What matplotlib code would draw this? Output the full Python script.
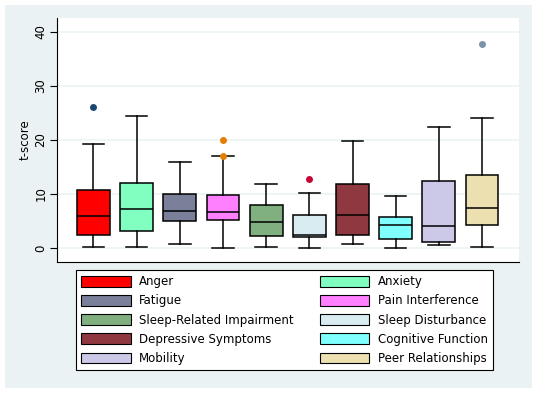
import matplotlib
matplotlib.use("Agg")
import matplotlib.pyplot as plt
from matplotlib.patches import Patch, Rectangle

# t-score distributions per domain
domains = ["Anger", "Anxiety", "Fatigue", "Pain Interference",
           "Sleep-Related Impairment", "Sleep Disturbance",
           "Depressive Symptoms", "Cognitive Function", "Mobility",
           "Peer Relationships"]
whis_lo = [0.25, 0.25, 0.7, 0.0, 0.1, 0.0, 0.7, 0.0, 0.5, 0.1]
q1 = [2.5, 3.1, 5.0, 5.1, 2.2, 2.0, 2.5, 1.6, 1.05, 4.2]
median = [5.9, 7.2, 6.8, 6.6, 4.75, 2.5, 6.05, 4.2, 4.0, 7.5]
q3 = [10.7, 12.0, 9.95, 9.75, 7.9, 6.05, 11.85, 5.7, 12.35, 13.5]
whis_hi = [19.2, 24.4, 15.9, 17.0, 11.8, 10.1, 19.75, 9.6, 22.5, 24.1]
outliers = [[26.2], [], [], [20.0, 17.0], [], [12.8], [], [], [], [37.8]]

box_colors = ["#ff0000", "#80ffc0", "#7a809a", "#ff80ff", "#80b080",
              "#d8ecf2", "#903840", "#80ffff", "#ccc8e8", "#ece0b0"]
# Stata s2color palette used for the outside values
flier_colors = ["#1a476f", "#90353b", "#55752f", "#e37e00", "#6e8e84",
                "#c10534", "#938dd2", "#cac27e", "#a0522d", "#7b92a8"]

y_ticks = [0, 10, 20, 30, 40]

BG = "#eaf2f3"
W, H = 537, 393
FONT = "DejaVu Sans"

fig = plt.figure(figsize=(W / 100, H / 100), dpi=100)
fig.patch.set_facecolor("white")
fig.patches.append(Rectangle((5 / W, 1 - 388 / H), 527 / W, 383 / H,
                             transform=fig.transFigure, facecolor=BG,
                             edgecolor="none", zorder=-10))

ax = fig.add_axes([57 / W, 1 - 262 / H, 462 / W, 244 / H])
ax.set_facecolor("white")

stats = []
for i, name in enumerate(domains):
    stats.append(dict(label=name, whislo=whis_lo[i], q1=q1[i], med=median[i],
                      q3=q3[i], whishi=whis_hi[i], fliers=[]))

positions = list(range(1, len(domains) + 1))
bp = ax.bxp(stats, positions=positions, widths=0.76, patch_artist=True,
            showfliers=False,
            boxprops=dict(edgecolor="black", linewidth=1.1),
            medianprops=dict(color="black", linewidth=1.1),
            whiskerprops=dict(color="black", linewidth=1.1),
            capprops=dict(color="black", linewidth=1.1),
            capwidths=0.5, zorder=3)
for patch, c in zip(bp["boxes"], box_colors):
    patch.set_facecolor(c)

for i, vals in enumerate(outliers):
    if vals:
        ax.plot([positions[i]] * len(vals), vals, "o", color=flier_colors[i],
                markersize=5, markeredgewidth=0, zorder=4)

ax.set_xlim(0.155, 10.856)
ax.set_ylim(-2.59, 42.6)
ax.set_xticks([])
ax.set_yticks(y_ticks)
ax.set_yticklabels([str(t) for t in y_ticks], rotation=90, va="center",
                   fontsize=8.5, family=FONT)
ax.tick_params(axis="y", length=5, width=0.8, pad=2)
ax.yaxis.grid(True, color=BG, linewidth=1.1)
ax.set_axisbelow(True)
ax.set_ylabel("t-score", fontsize=8.5, family=FONT, labelpad=2)
for s in ["top", "right"]:
    ax.spines[s].set_visible(False)
for s in ["left", "bottom"]:
    ax.spines[s].set_linewidth(0.8)

# legend filled row-wise like Stata: reorder for matplotlib's column fill
handles = [Patch(facecolor=c, edgecolor="black", linewidth=0.8) for c in box_colors]
order = [0, 2, 4, 6, 8, 1, 3, 5, 7, 9]
leg = fig.legend([handles[i] for i in order], [domains[i] for i in order],
                 ncol=2, loc="upper left",
                 bbox_to_anchor=(76 / W, 1 - 270 / H),
                 prop=dict(family=FONT, size=8.5),
                 handlelength=4.2, handleheight=1.0, handletextpad=0.7,
                 labelspacing=0.52, columnspacing=2.2, borderpad=0.45,
                 borderaxespad=0, fancybox=False, frameon=True)
leg.get_frame().set_edgecolor("black")
leg.get_frame().set_linewidth(0.8)
leg.get_frame().set_facecolor("white")
leg.get_frame().set_alpha(1)

fig.savefig("out.png", dpi=100)
